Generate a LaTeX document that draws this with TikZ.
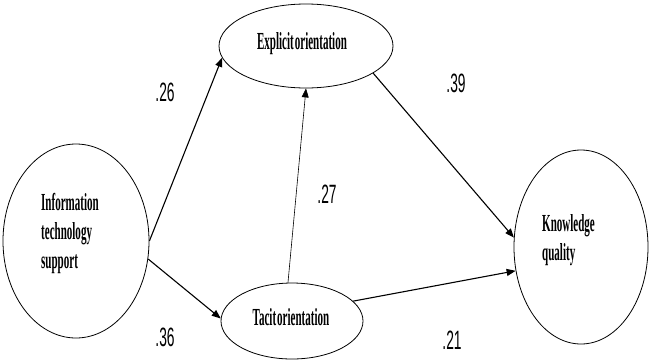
\documentclass[tikz,border=0pt]{standalone}
\usepackage{fontspec}
\usetikzlibrary{shapes.geometric,arrows.meta}
\newfontfamily\lblfont[FakeStretch=0.45]{Liberation Serif}
\newfontfamily\numfont[FakeStretch=0.52]{Liberation Sans}
\begin{document}
\begin{tikzpicture}[x=1pt,y=-1pt,
  oval/.style={draw,ellipse,line width=0.8pt,inner sep=0pt},
  lbl/.style={inner sep=0pt,align=left,
    font=\lblfont\bfseries\fontsize{24.5}{29}\selectfont},
  path/.style={draw,line width=1.1pt,-{Triangle[length=9pt,width=7pt]}},
  thinpath/.style={draw,line width=0.6pt,-{Triangle[length=9pt,width=7pt]}},
  coef/.style={inner sep=0pt,font=\numfont\fontsize{26.5}{27}\selectfont}]
\useasboundingbox (0,0) rectangle (650,362);
\node[oval,minimum width=146pt,minimum height=194pt] (it) at (76,241) {};
\node[oval,minimum width=174pt,minimum height=84pt] (ex) at (306,46) {};
\node[oval,minimum width=142pt,minimum height=76pt] (ta) at (292,321) {};
\node[oval,minimum width=134pt,minimum height=194pt] (kq) at (581,247) {};
\node[lbl,anchor=north west] (itT) at (41,193) {Information\\technology\\support};
\node[lbl] (exT) at (302,44) {Explicit\hspace{1pt}orientation};
\node[lbl] (taT) at (291,317) {Tacit\hspace{1pt}orientation};
\node[lbl,anchor=north west] (kqT) at (542,214) {Knowledge\\quality};
\draw[path] (it.0) -- (ex.188);
\draw[path] (it.-14) -- (ta.178);
\draw[thinpath] (ta.96) -- (ex.270);
\draw[path] (ex.-22) -- (kq.172);
\draw[path] (ta.18) -- (kq.200);
\node[coef] (c1) at (165,92) {.26};
\node[coef] (c2) at (456,83) {.39};
\node[coef] (c3) at (327,194) {.27};
\node[coef] (c4) at (165,337) {.36};
\node[coef] (c5) at (452,340) {.21};
\end{tikzpicture}
\end{document}
